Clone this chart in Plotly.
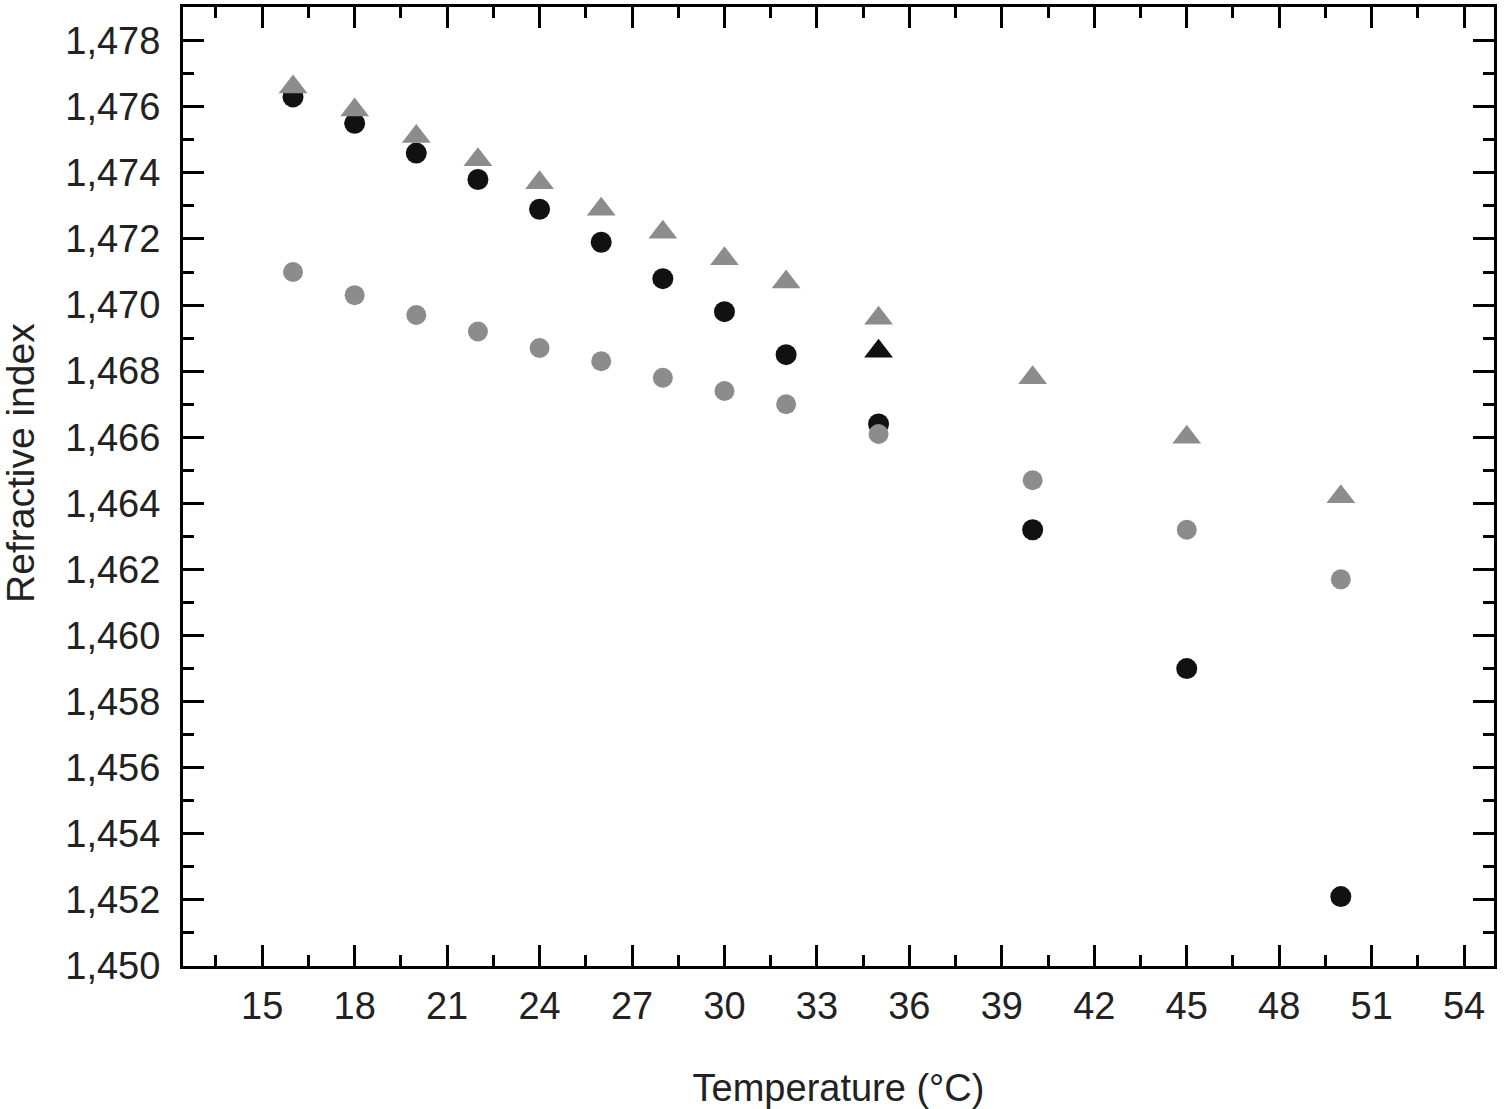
import plotly.graph_objects as go

temperature = [16, 18, 20, 22, 24, 26, 28, 30, 32, 35, 40, 45, 50]

# black filled circles
black_circles = [1.4763, 1.4755, 1.4746, 1.4738, 1.4729, 1.4719, 1.4708, 1.4698, 1.4685,
                 1.4664, 1.4632, 1.4590, 1.4521]
# grey filled circles
grey_circles = [1.4710, 1.4703, 1.4697, 1.4692, 1.4687, 1.4683, 1.4678, 1.4674, 1.4670,
                1.4661, 1.4647, 1.4632, 1.4617]
# grey triangles
grey_triangles = [1.4766, 1.4759, 1.4751, 1.4744, 1.4737, 1.4729, 1.4722, 1.4714, 1.4707,
                  1.4696, 1.4678, 1.4660, 1.4642]
# single black triangle at 35 °C
black_tri_x = [35]
black_tri_y = [1.4686]

GREY = "#8c8c8c"
BLACK = "#111111"
FONT = "Liberation Sans, Arial, sans-serif"

fig = go.Figure()
fig.add_trace(go.Scatter(x=temperature, y=black_circles, mode="markers",
                         marker=dict(symbol="circle", size=21, color=BLACK)))
fig.add_trace(go.Scatter(x=temperature, y=grey_circles, mode="markers",
                         marker=dict(symbol="circle", size=20, color=GREY)))
fig.add_trace(go.Scatter(x=temperature, y=grey_triangles, mode="markers",
                         marker=dict(symbol="triangle-up", size=25, color=GREY)))
fig.add_trace(go.Scatter(x=black_tri_x, y=black_tri_y, mode="markers",
                         marker=dict(symbol="triangle-up", size=25, color=BLACK)))

axis_common = dict(
    showline=True, linecolor="black", linewidth=3, mirror="allticks",
    ticks="inside", ticklen=21, tickwidth=3, tickcolor="black",
    showgrid=False, zeroline=False,
    tickfont=dict(family=FONT, size=38, color="#222"),
)

fig.update_xaxes(
    range=[12.43, 54.97], tick0=15, dtick=3,
    minor=dict(ticks="inside", ticklen=11, tickwidth=3, tickcolor="black", dtick=1.5, tick0=13.5),
    title=dict(text="Temperature (°C)", font=dict(family=FONT, size=38, color="#222"), standoff=52),
    ticklabelstandoff=4,
    **axis_common,
)
fig.update_yaxes(
    range=[1.45, 1.47902], tick0=1.45, dtick=0.002, tickformat=".3f",
    minor=dict(ticks="inside", ticklen=11, tickwidth=3, tickcolor="black", dtick=0.001),
    ticklabelstandoff=12,
    **axis_common,
)

# y title placed as an annotation (sits a little above the plot centre in the original)
fig.add_annotation(
    text="Refractive index", textangle=-90,
    xref="paper", yref="paper", x=-0.124, y=0.525,
    xanchor="center", yanchor="middle", showarrow=False,
    font=dict(family=FONT, size=39, color="#222"),
)

fig.update_layout(
    width=1507, height=1109,
    margin=dict(l=183, r=13, t=4, b=142),
    plot_bgcolor="white", paper_bgcolor="white",
    separators=",.",
    showlegend=False,
)

fig.write_html("out.html", config={"displayModeBar": False},
               post_script="document.body.style.margin='0px';")
